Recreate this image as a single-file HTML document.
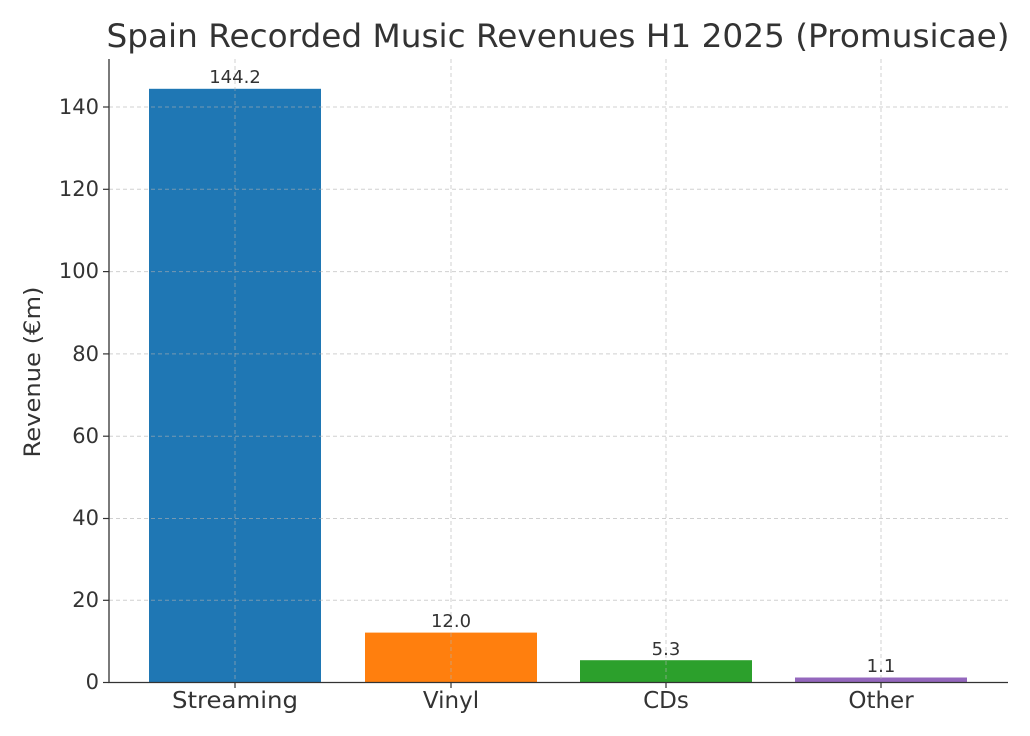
<!DOCTYPE html>
<html><head><meta charset="utf-8"><style>
html,body{margin:0;padding:0;background:#fff;}
svg{display:block;font-family:"DejaVu Sans","Liberation Sans",sans-serif;}
</style></head><body>
<svg width="1030" height="736" viewBox="0 0 1030 736">
<rect width="1030" height="736" fill="#fff"/>
<text x="558" y="47" font-size="32" fill="#333" text-anchor="middle" textLength="903" lengthAdjust="spacingAndGlyphs">Spain Recorded Music Revenues H1 2025 (Promusicae)</text>
<rect x="149" y="88.8" width="172" height="593.2" fill="#1f77b4"/>
<rect x="365" y="632.6" width="172" height="49.4" fill="#ff7f0e"/>
<rect x="580" y="660.2" width="172" height="21.8" fill="#2ca02c"/>
<rect x="795" y="677.5" width="172" height="4.5" fill="#9467bd"/>
<g stroke="#b0b0b0" stroke-opacity="0.6" stroke-width="1" stroke-dasharray="4,3">
<line x1="109" x2="1008" y1="600.3" y2="600.3"/>
<line x1="109" x2="1008" y1="518.5" y2="518.5"/>
<line x1="109" x2="1008" y1="436.2" y2="436.2"/>
<line x1="109" x2="1008" y1="353.9" y2="353.9"/>
<line x1="109" x2="1008" y1="271.6" y2="271.6"/>
<line x1="109" x2="1008" y1="189.3" y2="189.3"/>
<line x1="109" x2="1008" y1="107" y2="107"/>
<line x1="235" x2="235" y1="59" y2="682"/>
<line x1="451" x2="451" y1="59" y2="682"/>
<line x1="666" x2="666" y1="59" y2="682"/>
<line x1="881" x2="881" y1="59" y2="682"/>
</g>
<g stroke="#333" stroke-width="1.3">
<line x1="109" x2="109" y1="59" y2="682.5"/>
<line x1="108.5" x2="1008" y1="682.5" y2="682.5"/>
</g>
<g stroke="#333" stroke-width="1.2">
<line x1="103" x2="109" y1="682.5" y2="682.5"/>
<line x1="103" x2="109" y1="600.3" y2="600.3"/>
<line x1="103" x2="109" y1="518.5" y2="518.5"/>
<line x1="103" x2="109" y1="436.2" y2="436.2"/>
<line x1="103" x2="109" y1="353.9" y2="353.9"/>
<line x1="103" x2="109" y1="271.6" y2="271.6"/>
<line x1="103" x2="109" y1="189.3" y2="189.3"/>
<line x1="103" x2="109" y1="107" y2="107"/>
<line x1="235" x2="235" y1="682" y2="688"/>
<line x1="451" x2="451" y1="682" y2="688"/>
<line x1="666" x2="666" y1="682" y2="688"/>
<line x1="881" x2="881" y1="682" y2="688"/>
</g>
<g font-size="21" fill="#333" text-anchor="end">
<text x="99" y="689">0</text>
<text x="99" y="607">20</text>
<text x="99" y="525">40</text>
<text x="99" y="443">60</text>
<text x="99" y="361">80</text>
<text x="99" y="278">100</text>
<text x="99" y="196">120</text>
<text x="99" y="114">140</text>
</g>
<g font-size="23" fill="#333" text-anchor="middle">
<text x="235" y="708" textLength="126" lengthAdjust="spacingAndGlyphs">Streaming</text>
<text x="451" y="708">Vinyl</text>
<text x="666" y="708">CDs</text>
<text x="881" y="708">Other</text>
</g>
<text transform="translate(40,372) rotate(-90)" font-size="22" fill="#333" text-anchor="middle" textLength="171" lengthAdjust="spacingAndGlyphs">Revenue (€m)</text>
<g font-size="18" fill="#333" text-anchor="middle">
<text x="235" y="83">144.2</text>
<text x="451" y="627">12.0</text>
<text x="666" y="655">5.3</text>
<text x="881" y="672">1.1</text>
</g>
</svg>
</body></html>
